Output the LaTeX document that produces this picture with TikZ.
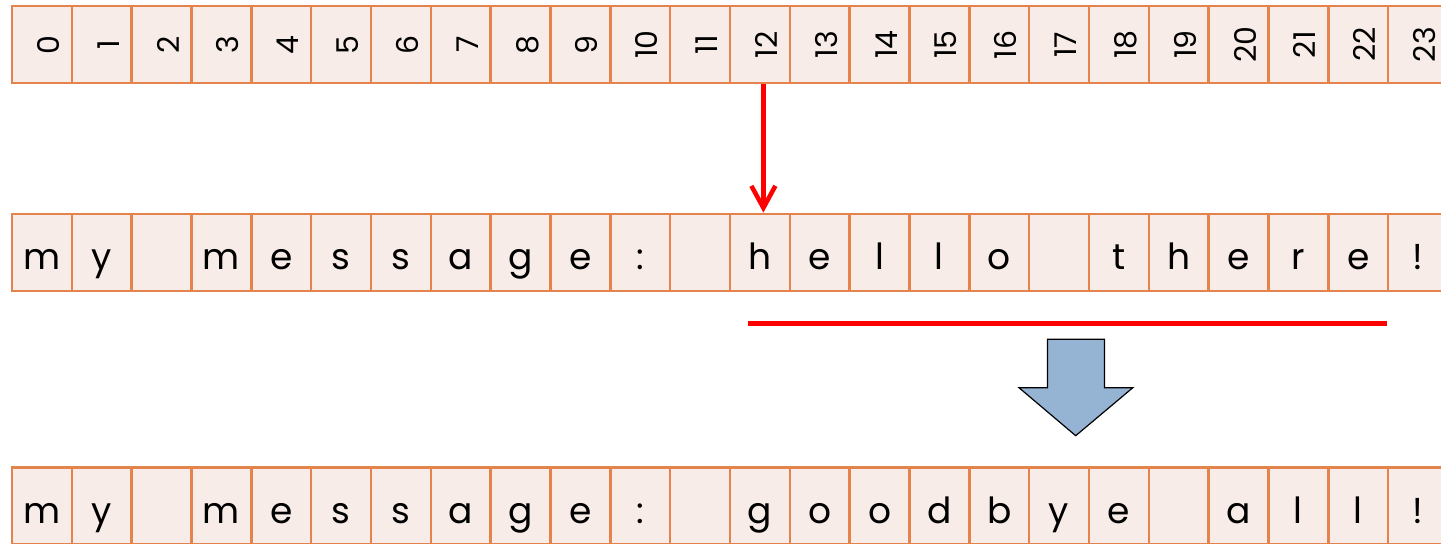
\documentclass[tikz,border=0pt]{standalone}
\usepackage{fontspec}
\setmainfont{Poppins}
\usetikzlibrary{arrows.meta, positioning}
\definecolor{cellfill}{RGB}{248,236,232}
\definecolor{cellline}{RGB}{228,131,76}
\definecolor{bigarrow}{RGB}{149,179,211}
\begin{document}
\begin{tikzpicture}[
        x=0.5pt, y=-0.5pt,
        cell/.style={rectangle, draw=cellline, fill=cellfill, line width=1.25pt,
            minimum width=29.9pt, minimum height=38.5pt, inner sep=0pt,
            text height=20pt, text depth=2.5pt, text centered,
            font=\fontsize{18}{18}\selectfont},
        numcell/.style={cell, rotate=90, minimum width=38.5pt,
            minimum height=29.9pt, font=\fontsize{15}{15}\selectfont},
        pointer/.style={draw=red, line width=2.25pt,
            -{Straight Barb[length=11pt, width=12pt]}},
        underline/.style={draw=red, line width=2.25pt},
        downarrow/.style={draw=black, fill=bigarrow, line width=0.6pt},
    ]
        \useasboundingbox (0,0) rectangle (1441,543);

        % Indices
        \foreach \i in {0,...,23}
            \node[numcell] (idx\i) at ({12+(\i+0.5)*59.83}, 44.7) {\i};

        % Original string
        \foreach \c [count=\i from 0] in {m,y,{},m,e,s,s,a,g,e,:,{},h,e,l,l,o,{},t,h,e,r,e,!}
            \node[cell] (old\i) at ({12+(\i+0.5)*59.83}, 252.3) {\c};

        % Replaced string
        \foreach \c [count=\i from 0] in {m,y,{},m,e,s,s,a,g,e,:,{},g,o,o,d,b,y,e,{},a,l,l,!}
            \node[cell] (new\i) at ({12+(\i+0.5)*59.83}, 505.8) {\c};

        % Start position
        \draw[pointer] ([xshift=1.75pt]idx12.west) -- ([xshift=1.75pt]old12.north);

        % Overwritten part
        \coordinate (ulstart) at (748, 323.7);
        \coordinate (ulend) at (old23.west |- ulstart);
        \draw[underline] (ulstart) -- (ulend);

        % Block arrow
        \coordinate (tip) at (1075.7, 435.7);
        \draw[downarrow] (tip) -- ++(-56.7,-48) -- ++(28.4,0) -- ++(0,-48.4)
            -- ++(57,0) -- ++(0,48.4) -- ++(28.4,0) -- cycle;
    \end{tikzpicture}
\end{document}
